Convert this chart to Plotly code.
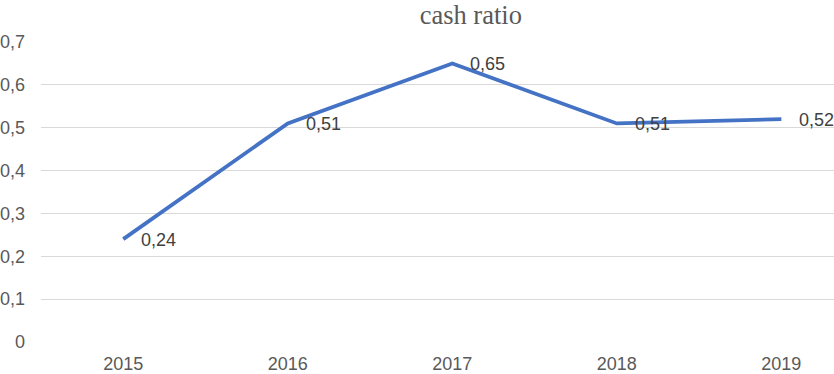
import plotly.graph_objects as go

years = ["2015", "2016", "2017", "2018", "2019"]
cash_ratio = [0.24, 0.51, 0.65, 0.51, 0.52]
label_texts = ["0,24", "0,51", "0,65", "0,51", "0,52"]
y_ticks = [0, 0.1, 0.2, 0.3, 0.4, 0.5, 0.6, 0.7]
y_tick_labels = ["0", "0,1", "0,2", "0,3", "0,4", "0,5", "0,6", "0,7"]

fig = go.Figure()
fig.add_trace(go.Scatter(
    x=years, y=cash_ratio, mode="lines",
    line=dict(color="#4472C4", width=3.8),
    hoverinfo="skip",
))

for i, (y, t) in enumerate(zip(cash_ratio, label_texts)):
    fig.add_annotation(x=i, y=y, text=t, showarrow=False,
                       xanchor="left", yanchor="middle", xshift=16, yshift=-1,
                       font=dict(family="Liberation Sans, Arial", size=18, color="#404040"))

fig.update_layout(
    width=834, height=374,
    margin=dict(l=41, r=0, t=42, b=29),
    paper_bgcolor="white", plot_bgcolor="white",
    showlegend=False,
    title=dict(text="cash ratio", x=452/834, xanchor="center", xref="paper",
               y=1 - 15/374, yanchor="middle", pad=dict(t=0, b=0),
               font=dict(family="Liberation Serif, Times New Roman", size=26.5, color="#595959")),
    xaxis=dict(type="category", range=[-0.5, 4.32], showgrid=False, zeroline=False,
               showline=False, ticks="", ticklabelstandoff=9,
               tickfont=dict(family="Liberation Sans, Arial", size=18, color="#595959")),
    yaxis=dict(range=[0, 0.7], tickvals=y_ticks, ticktext=y_tick_labels,
               showgrid=True, gridcolor="#D9D9D9", gridwidth=1, zeroline=False,
               showline=False, ticks="", ticklabelstandoff=15,
               tickfont=dict(family="Liberation Sans, Arial", size=18, color="#595959")),
)

fig.write_html("out.html", config={"displayModeBar": False},
               post_script="document.body.style.margin='0';document.body.style.overflow='hidden';")
